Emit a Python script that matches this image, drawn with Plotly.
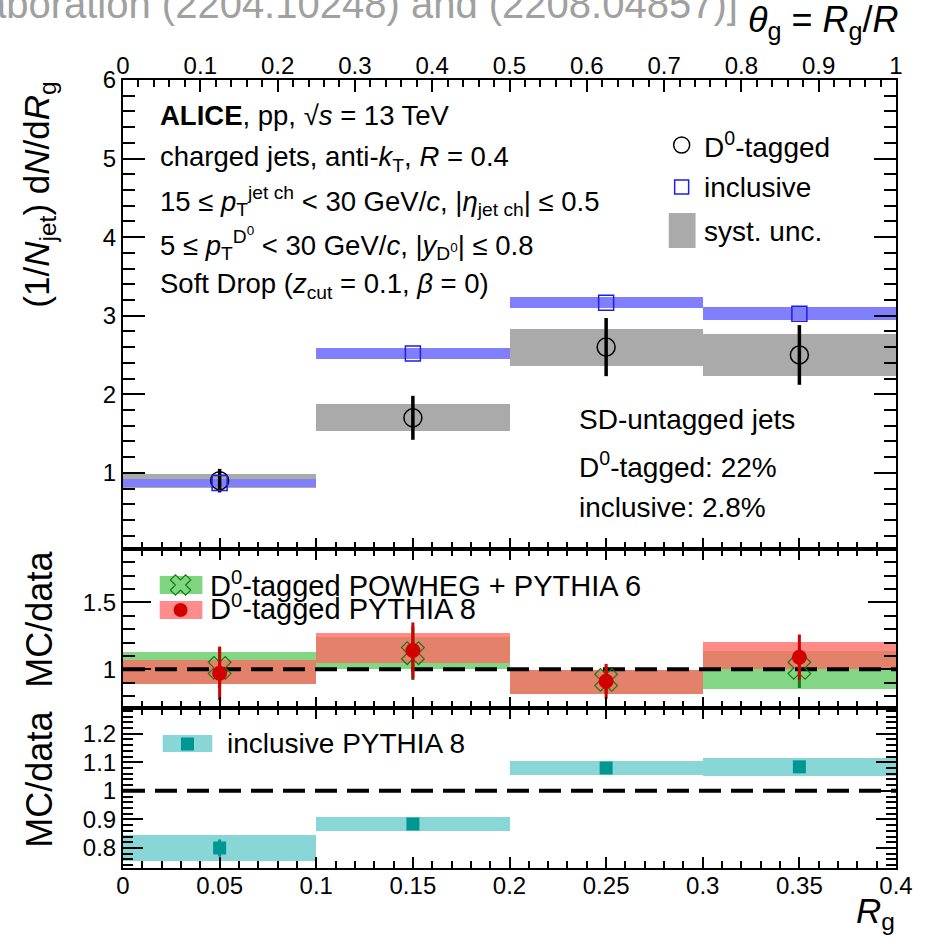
import plotly.graph_objects as go

# ---------------- data ----------------
bin_lo = [0.0, 0.1, 0.2, 0.3]
bin_hi = [0.1, 0.2, 0.3, 0.4]
rg_centers = [0.05, 0.15, 0.25, 0.35]

# top panel: (1/Njet) dN/dRg
d0_val = [0.90, 1.70, 2.60, 2.50]
d0_stat = [0.15, 0.28, 0.37, 0.38]
d0_syst = [0.09, 0.17, 0.235, 0.27]
incl_val = [0.87, 2.52, 3.165, 3.025]
incl_syst = [0.05, 0.07, 0.07, 0.085]

# middle panel: MC/data for D0-tagged
powheg_val = [1.01, 1.12, 0.92, 1.01]
powheg_stat = [0.15, 0.20, 0.10, 0.15]
powheg_syst_c = [1.006, 1.124, 0.905, 0.995]
powheg_syst = [0.12, 0.12, 0.09, 0.14]
py8_val = [0.97, 1.14, 0.91, 1.09]
py8_stat = [0.20, 0.21, 0.13, 0.17]
py8_syst_c = [0.977, 1.16, 0.905, 1.105]
py8_syst = [0.09, 0.11, 0.087, 0.10]

# bottom panel: MC/data for inclusive
inclpy8_val = [0.80, 0.884, 1.08, 1.084]
inclpy8_stat = [0.03, 0.01, 0.01, 0.01]
inclpy8_syst = [0.046, 0.025, 0.025, 0.032]

theta_ticks = [0, 0.1, 0.2, 0.3, 0.4, 0.5, 0.6, 0.7, 0.8, 0.9, 1]
rg_ticks = [0, 0.05, 0.1, 0.15, 0.2, 0.25, 0.3, 0.35, 0.4]

# ---------------- layout geometry ----------------
W, H = 925, 939
ML, MR, MT, MB = 123, 23, 80, 71
PW, PH = W - ML - MR, H - MT - MB
Y_TOP_BOT = 549   # pixel y of top panel bottom
Y_MID_BOT = 708   # pixel y of middle panel bottom

def py(ypix):
    return (H - MB - ypix) / PH

def px(xpix):
    return (xpix - ML) / PW

XR = [0, 0.4]
YR3 = [0.03, 6.0]
YR2 = [0.71, 1.9]
YR1 = [0.73, 1.29]

dom3 = [py(Y_TOP_BOT), 1.0]
dom2 = [py(Y_MID_BOT), py(Y_TOP_BOT)]
dom1 = [0.0, py(Y_MID_BOT)]

def data_x(xpix):
    return XR[0] + (XR[1] - XR[0]) * px(xpix)

def data_y(ypix, dom, yr):
    f = (py(ypix) - dom[0]) / (dom[1] - dom[0])
    return yr[0] + (yr[1] - yr[0]) * f

FONT = "Liberation Sans, Arial, sans-serif"
GREEN = "rgb(20,120,20)"
RED = "rgb(210,0,0)"
TEAL = "rgb(0,150,145)"
BLUE = "rgb(30,30,230)"
fig = go.Figure()

# invisible trace so that the theta_g axis is drawn
fig.add_trace(go.Scatter(x=[0.5], y=[3], mode="markers", marker=dict(opacity=0),
                         xaxis="x4", yaxis="y3", showlegend=False, hoverinfo="skip"))

def band(x, c, e, color, xa, ya):
    fig.add_trace(go.Bar(x=x, y=[2 * v for v in e], base=[a - b for a, b in zip(c, e)],
                         width=0.1, marker=dict(color=color, line=dict(width=0)),
                         xaxis=xa, yaxis=ya, showlegend=False, hoverinfo="skip"))

# ---- top panel ----
band(rg_centers, d0_val, d0_syst, "rgb(170,170,170)", "x3", "y3")
band(rg_centers, incl_val, incl_syst, "rgb(128,128,255)", "x3", "y3")
fig.add_trace(go.Scatter(x=rg_centers, y=d0_val, mode="markers",
                         error_y=dict(type="data", array=d0_stat, width=0, thickness=3.5, color="black"),
                         marker=dict(symbol="circle-open", size=18, color="black", line=dict(width=1.5)),
                         xaxis="x3", yaxis="y3", showlegend=False))
fig.add_trace(go.Scatter(x=rg_centers, y=incl_val, mode="markers",
                         marker=dict(symbol="square-open", size=15, color=BLUE, line=dict(width=1.5)),
                         xaxis="x3", yaxis="y3", showlegend=False))

# ---- middle panel ----
band(rg_centers, powheg_syst_c, powheg_syst, "rgba(120,210,120,0.92)", "x2", "y2")
band(rg_centers, py8_syst_c, py8_syst, "rgba(255,105,100,0.78)", "x2", "y2")
fig.add_trace(go.Scatter(x=XR, y=[1, 1], mode="lines",
                         line=dict(color="black", width=4, dash="22px,10px"),
                         xaxis="x2", yaxis="y2", showlegend=False))
fig.add_trace(go.Scatter(x=rg_centers, y=powheg_val, mode="markers",
                         error_y=dict(type="data", array=powheg_stat, width=0, thickness=3, color=GREEN),
                         marker=dict(symbol="x-open", size=20, color=GREEN, line=dict(width=1.2)),
                         xaxis="x2", yaxis="y2", showlegend=False))
fig.add_trace(go.Scatter(x=rg_centers, y=py8_val, mode="markers",
                         error_y=dict(type="data", array=py8_stat, width=0, thickness=3, color=RED),
                         marker=dict(symbol="circle", size=15, color=RED),
                         xaxis="x2", yaxis="y2", showlegend=False))

# ---- bottom panel ----
band(rg_centers, inclpy8_val, inclpy8_syst, "rgb(136,214,214)", "x", "y")
fig.add_trace(go.Scatter(x=XR, y=[1, 1], mode="lines",
                         line=dict(color="black", width=4, dash="22px,10px"),
                         xaxis="x", yaxis="y", showlegend=False))
fig.add_trace(go.Scatter(x=rg_centers, y=inclpy8_val, mode="markers",
                         error_y=dict(type="data", array=inclpy8_stat, width=0, thickness=3, color=TEAL),
                         marker=dict(symbol="square", size=13, color=TEAL),
                         xaxis="x", yaxis="y", showlegend=False))

# ---------------- legend glyphs (manual, ROOT style) ----------------
def legend_marker(xpix, ypix, dom, yr, xa, ya, **mk):
    fig.add_trace(go.Scatter(x=[data_x(xpix)], y=[data_y(ypix, dom, yr)], mode="markers",
                             marker=mk, xaxis=xa, yaxis=ya, showlegend=False, hoverinfo="skip",
                             cliponaxis=False))

def legend_box(x0, y0, x1, y1, color):
    fig.add_shape(type="rect", xref="paper", yref="paper", x0=px(x0), x1=px(x1), y0=py(y1), y1=py(y0),
                  fillcolor=color, line=dict(width=0), layer="below")

# top legend
legend_marker(686, 145, dom3, YR3, "x3", "y3", symbol="circle-open", size=16, color="black", line=dict(width=1.5))
legend_marker(686, 187, dom3, YR3, "x3", "y3", symbol="square-open", size=14, color=BLUE, line=dict(width=1.5))
legend_box(673, 213, 700, 248, "rgb(170,170,170)")
# middle legend
legend_box(160, 576, 203, 594, "rgb(128,214,128)")
legend_box(160, 601, 203, 619, "rgb(255,140,140)")
legend_marker(181, 585, dom2, YR2, "x2", "y2", symbol="x-open", size=18, color=GREEN, line=dict(width=1.2))
legend_marker(181, 610, dom2, YR2, "x2", "y2", symbol="circle", size=14, color=RED)
# bottom legend
legend_box(163, 735, 213, 752, "rgb(136,214,214)")
legend_marker(188, 744, dom1, YR1, "x", "y", symbol="square", size=13, color=TEAL)

# ---------------- texts ----------------
def txt(s, xpix, ypix, size=28, xanchor="left", color="black", angle=0, yanchor="middle"):
    fig.add_annotation(text=s, x=px(xpix), y=py(ypix), xref="paper", yref="paper",
                       xanchor=xanchor, yanchor=yanchor, showarrow=False, textangle=angle,
                       font=dict(family=FONT, size=size, color=color))

info_lines = [
    "<b>ALICE</b>, pp, √<i>s</i> = 13 TeV",
    "charged jets, anti-<i>k</i><sub>T</sub>, <i>R</i> = 0.4",
    "15 ≤ <i>p</i><sub>T</sub><sup>jet ch</sup> < 30 GeV/<i>c</i>, |<i>η</i><sub>jet ch</sub>| ≤ 0.5",
    "5 ≤ <i>p</i><sub>T</sub><sup>D<sup>0</sup></sup> < 30 GeV/<i>c</i>, |<i>y</i><sub>D<sup>0</sup></sub>| ≤ 0.8",
    "Soft Drop (<i>z</i><sub>cut</sub> = 0.1, <i>β</i> = 0)",
]
info_y = [115, 158, 201, 243, 285]
for s, yy in zip(info_lines, info_y):
    txt(s, 158, yy, size=27.5)

txt("D<sup>0</sup>-tagged", 706, 145)
txt("inclusive", 706, 187)
txt("syst. unc.", 706, 231)

txt("SD-untagged jets", 581, 419)
txt("D<sup>0</sup>-tagged: 22%", 581, 465)
txt("inclusive: 2.8%", 581, 508)

txt("D<sup>0</sup>-tagged POWHEG + PYTHIA 6", 209, 584, size=29)
txt("D<sup>0</sup>-tagged PYTHIA 8", 209, 607, size=29)
txt("inclusive PYTHIA 8", 226, 743, size=28)

txt("(1/<i>N</i><sub>jet</sub>) d<i>N</i>/d<i>R</i><sub>g</sub>", 38, 195, size=35, xanchor="center", angle=-90)
txt("MC/data", 38, 619, size=36, xanchor="center", angle=-90)
txt("MC/data", 38, 779, size=36, xanchor="center", angle=-90)

txt("<i>θ</i><sub>g</sub> = <i>R</i><sub>g</sub>/<i>R</i>", 907, 22, size=36, xanchor="right")
txt("<i>R</i><sub>g</sub>", 903, 913, size=35, xanchor="right")
txt("Collaboration (2204.10248) and (2208.04857)]", 745, 4, size=40, xanchor="right",
    color="rgb(160,160,160)")

# ---------------- axes ----------------
tickfont = dict(family=FONT, size=24, color="black")

def xax(showlabels, anchor, mirror="ticks"):
    return dict(range=XR, domain=[0, 1], anchor=anchor, showline=True, linecolor="black", linewidth=2,
                mirror=mirror, ticks="inside", ticklen=11, tickwidth=1.5, tickcolor="black",
                tickvals=rg_ticks, ticktext=[f"{v:g}" for v in rg_ticks], showticklabels=showlabels,
                tickfont=tickfont, showgrid=False, zeroline=False, ticklabelstandoff=-5,
                minor=dict(dtick=0.01, tick0=0, ticks="inside", ticklen=7, tickwidth=1.5,
                           tickcolor="black", showgrid=False))

def yax(dom, yr, minor, tl, mtl, anchor, tickvals):
    return dict(range=yr, domain=dom, anchor=anchor, showline=True, linecolor="black", linewidth=2,
                mirror="ticks", ticks="inside", ticklen=tl, tickwidth=1.5, tickcolor="black",
                tickvals=tickvals, ticktext=[f"{v:g}" for v in tickvals],
                tickfont=tickfont, showgrid=False, zeroline=False,
                minor=dict(dtick=minor, tick0=0, ticks="inside", ticklen=mtl, tickwidth=1.5,
                           tickcolor="black", showgrid=False))

fig.update_layout(
    width=W, height=H, margin=dict(l=ML, r=MR, t=MT, b=MB, pad=0),
    paper_bgcolor="white", plot_bgcolor="rgba(0,0,0,0)",
    barmode="overlay", bargap=0, showlegend=False,
    font=dict(family=FONT, color="black"),
    xaxis=xax(True, "y"),
    xaxis2=xax(False, "y2"),
    xaxis3=xax(False, "y3", mirror=True),
    xaxis4=dict(range=[0, 1], overlaying="x3", side="top", anchor="y3", showline=False,
                ticks="inside", ticklen=12, tickwidth=1.5, tickcolor="black",
                tickvals=theta_ticks, ticktext=[f"{v:g}" for v in theta_ticks],
                tickfont=tickfont, showgrid=False, zeroline=False,
                minor=dict(dtick=0.02, tick0=0, ticks="inside", ticklen=7, tickwidth=1.5,
                           tickcolor="black", showgrid=False)),
    yaxis=yax(dom1, YR1, 0.02, 20, 10, "x", [0.8, 0.9, 1.0, 1.1, 1.2]),
    yaxis2=yax(dom2, YR2, 0.1, 28, 12, "x2", [1.0, 1.5]),
    yaxis3=yax(dom3, YR3, 0.2, 22, 12, "x3", [1, 2, 3, 4, 5, 6]),
)

fig.write_html("out.html")
